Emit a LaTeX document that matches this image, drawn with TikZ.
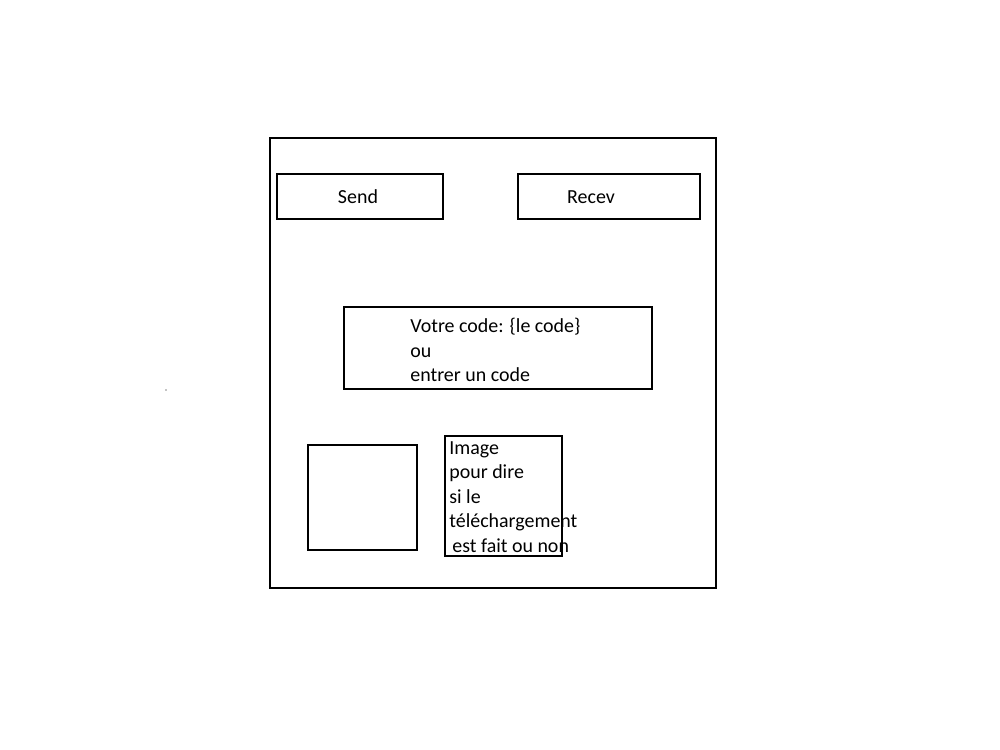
\documentclass[tikz,border=0pt]{standalone}
\usepackage{fontspec}
\setmainfont{Carlito}
\usetikzlibrary{positioning}

\begin{document}
\begin{tikzpicture}[x=0.02cm, y=-0.02cm, font=\fontsize{11.35}{14}\selectfont,
  frame/.style={draw, line width=1.1pt, inner sep=0pt},
  lbl/.style={inner sep=0pt, anchor=base},
  txt/.style={inner sep=0pt, align=left, anchor=north west}]
\useasboundingbox (0,0) rectangle (1000,750);

% Window
\node[frame, minimum width=8.92cm, minimum height=9cm] (window) at (493,363) {};

% Buttons
\node[frame, minimum width=3.32cm, minimum height=0.9cm] (send) at (360,196.5) {};
\node[lbl] (sendlbl) at (358,203) {Send};
\node[frame, minimum width=3.64cm, minimum height=0.9cm] (recev) at (609,196.5) {};
\node[lbl] (recevlbl) at (591,203) {Recev};

% Code field
\node[frame, minimum width=6.16cm, minimum height=1.64cm] (codebox) at (498,348) {};
\node[txt] (codelbl) at (410,318) {Votre code: \{le code\}\\ou\\entrer un code};

% Image placeholders
\node[frame, minimum width=2.18cm, minimum height=2.1cm] (preview) at (362.5,497.5) {};
\node[frame, minimum width=2.34cm, minimum height=2.4cm] (statusbox) at (503.5,496) {};
\node[txt] (statuslbl) at (449,441) {Image\\pour dire\\si le\\téléchargement\\\hspace*{0.06cm}est fait ou non};

% stray dot
\fill (166,390) circle (0.6);
\end{tikzpicture}
\end{document}
